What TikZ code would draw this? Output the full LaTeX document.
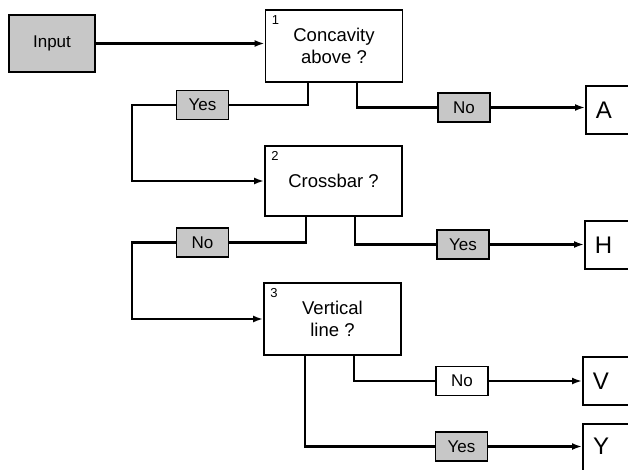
\documentclass[tikz,border=0pt]{standalone}
\usepackage{fontspec}
\setmainfont{Liberation Sans}
\usetikzlibrary{arrows.meta}
\begin{document}
\begin{tikzpicture}[x=1pt,y=-1pt,
  line width=2.4pt,
  box/.style={draw, line width=1.8pt, fill=white, minimum width=137pt, inner sep=0pt, align=center, font=\fontsize{18.5}{22}\selectfont},
  lab/.style={draw, line width=1.8pt, fill=black!22, minimum width=52pt, minimum height=29pt, inner sep=0pt, font=\fontsize{17}{20}\selectfont},
  labw/.style={lab, fill=white},
  res/.style={draw, line width=1.8pt, fill=white, minimum width=66pt, minimum height=48pt, inner sep=0pt, text width=66pt, align=left, font=\fontsize{24}{28}\selectfont},
  num/.style={inner sep=0pt, font=\fontsize{13}{15}\selectfont},
  arr/.style={-{Latex[length=10pt,width=7pt]}}]
\useasboundingbox (0,0) rectangle (628,470);
\clip (0,0) rectangle (628,470);

% input
\node[lab, minimum width=86pt, minimum height=57pt] (in) at (52,43.5) {Input};

% decision boxes
\node[box, minimum height=72pt] (b1) at (334,46) {Concavity\\above ?};
\node[box, minimum height=70pt] (b2) at (333.5,181) {Crossbar ?};
\node[box, minimum height=72pt] (b3) at (332.5,319) {Vertical\\line ?};
\node[num, anchor=north west] (n1) at ([xshift=6pt,yshift=-5pt]b1.north west) {1};
\node[num, anchor=north west] (n2) at ([xshift=6pt,yshift=-5pt]b2.north west) {2};
\node[num, anchor=north west] (n3) at ([xshift=6pt,yshift=-5pt]b3.north west) {3};

% labels
\node[lab] (y1) at (202.5,105) {Yes};
\node[lab] (o1) at (464,107.5) {No};
\node[lab] (o2) at (202.5,242.5) {No};
\node[lab] (y2) at (463,244.5) {Yes};
\node[labw] (o3) at (462,381) {No};
\node[lab] (y3) at (461.5,446.5) {Yes};

% results (cut off by the right margin)
\node[res, anchor=west] (A) at (585,110) {\hspace{10pt}A};
\node[res, anchor=west] (H) at (584,245) {\hspace{10pt}H};
\node[res, anchor=west] (V) at (582,381) {\hspace{10pt}V};
\node[res, anchor=north west, minimum height=70pt, text height=14pt] (Y) at (582,423) {};
\node[inner sep=0pt, font=\fontsize{24}{28}\selectfont] (Yt) at (601,446.5) {Y};

% stub points
\coordinate (s1l) at ([xshift=-26pt]b1.south);
\coordinate (s1r) at ([xshift=23pt]b1.south);
\coordinate (s2l) at ([xshift=-27.5pt]b2.south);
\coordinate (s2r) at ([xshift=21.5pt]b2.south);
\coordinate (s3l) at ([xshift=-27.5pt]b3.south);
\coordinate (s3r) at ([xshift=21.5pt]b3.south);

% connectors
\draw[arr] (in.east) -- (in.east -| b1.west);
\draw (s1l) |- (y1.east);
\draw[arr] (y1.west) -- ++(-43.5,0) |- (b2.west);
\draw (s1r) |- (o1.west);
\draw[arr] (o1.east) -- (o1.east -| A.west);

\draw (s2l) |- (o2.east);
\draw[arr] (o2.west) -- ++(-43.5,0) |- (b3.west);
\draw (s2r) |- (y2.west);
\draw[arr] (y2.east) -- (y2.east -| H.west);

\draw (s3r) |- (o3.west);
\draw[arr] (o3.east) -- (o3.east -| V.west);
\draw (s3l) |- (y3.west);
\draw[arr] (y3.east) -- (y3.east -| Y.west);
\end{tikzpicture}
\end{document}
